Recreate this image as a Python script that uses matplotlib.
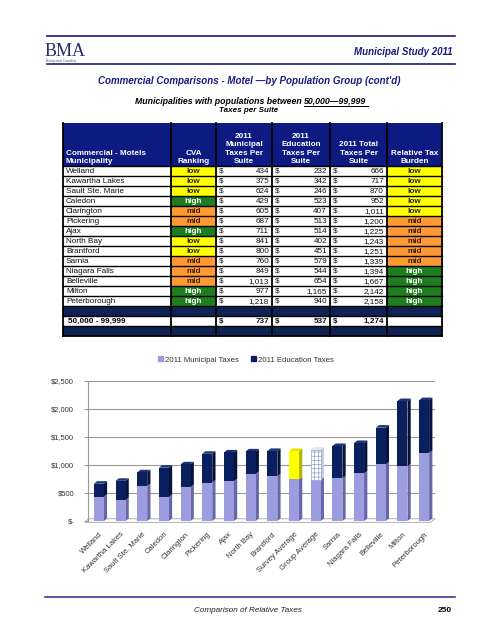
import matplotlib
matplotlib.use('Agg')
import matplotlib.pyplot as plt
from matplotlib.patches import Rectangle, Polygon, Patch

plt.rcParams['font.family'] = ['Liberation Sans', 'DejaVu Sans']
plt.rcParams['hatch.linewidth'] = 0.5

# ---- table data ----
munis = ['Welland', 'Kawartha Lakes', 'Sault Ste. Marie', 'Caledon', 'Clarington', 'Pickering',
         'Ajax', 'North Bay', 'Brantford', 'Sarnia', 'Niagara Falls', 'Belleville', 'Milton',
         'Peterborough']
cva_rank = ['low', 'low', 'low', 'high', 'mid', 'mid', 'high', 'low', 'low', 'mid', 'mid', 'mid',
            'high', 'high']
muni_tax = [434, 375, 624, 429, 605, 687, 711, 841, 800, 760, 849, 1013, 977, 1218]
edu_tax = [232, 342, 246, 523, 407, 513, 514, 402, 451, 579, 544, 654, 1165, 940]
total_tax = [666, 717, 870, 952, 1011, 1200, 1225, 1243, 1251, 1339, 1394, 1667, 2142, 2158]
burden = ['low', 'low', 'low', 'low', 'low', 'mid', 'mid', 'mid', 'mid', 'mid', 'high', 'high',
          'high', 'high']
group_label = '50,000 - 99,999'
group_vals = [737, 537, 1274]

headers = ['Commercial - Motels\nMunicipality', 'CVA\nRanking', '2011\nMunicipal\nTaxes Per\nSuite',
           '2011\nEducation\nTaxes Per\nSuite', '2011 Total\nTaxes Per\nSuite',
           'Relative Tax\nBurden']

# ---- chart data ----
chart_names = ['Welland', 'Kawartha Lakes', 'Sault Ste. Marie', 'Caledon', 'Clarington',
               'Pickering', 'Ajax', 'North Bay', 'Brantford', 'Survey Average', 'Group Average',
               'Sarnia', 'Niagara Falls', 'Belleville', 'Milton', 'Peterborough']
chart_muni = [434, 375, 624, 429, 605, 687, 711, 841, 800, 745, 737, 760, 849, 1013, 977, 1218]
chart_edu = [232, 342, 246, 523, 407, 513, 514, 402, 451, 505, 537, 579, 544, 654, 1165, 940]
yticks = [0, 500, 1000, 1500, 2000, 2500]
ytick_labels = ['$-', '$500', '$1,000', '$1,500', '$2,000', '$2,500']

NAVY = '#1a1a80'
HEAD = '#0c1a82'
DARKROW = '#0e2254'
rank_fill = {'low': '#ffff00', 'mid': '#ff9933', 'high': '#1e7d1e'}
rank_text = {'low': '#222222', 'mid': '#3a2000', 'high': 'white'}
FS = 5.9

W, H = 495, 640
fig = plt.figure(figsize=(W / 100, H / 100), dpi=100)
pg = fig.add_axes([0, 0, 1, 1])
pg.set_xlim(0, W)
pg.set_ylim(H, 0)
pg.axis('off')

# ---- page header ----
pg.plot([47, 455], [36, 36], color=NAVY, lw=1.2)
pg.plot([47, 455], [64, 64], color=NAVY, lw=1.2)
pg.text(45, 56.5, 'BMA', family='Liberation Serif', fontsize=13, color='#2b2b6b', va='baseline')
pg.text(46, 62, 'Management Consulting', fontsize=2, color='#555555', va='baseline')
pg.text(453, 52, 'Municipal Study 2011', fontsize=7, weight='bold', style='italic',
        color=NAVY, ha='right', va='center')
pg.text(249, 81, "Commercial Comparisons - Motel \u2014by Population Group (cont'd)", fontsize=7,
        weight='bold', style='italic', color=NAVY, ha='center', va='center')
pg.text(304, 101, 'Municipalities with populations between ', fontsize=6.3, weight='bold',
        style='italic', ha='right', va='center')
pg.text(304, 101, '50,000\u201499,999', fontsize=6.3, weight='bold', style='italic', ha='left',
        va='center')
pg.plot([304, 368], [106, 106], color='black', lw=0.7)
pg.text(249, 111, 'Taxes per Suite', fontsize=5.8, weight='bold', style='italic', ha='center',
        va='center')

# ---- table ----
cols = [63, 171, 216, 272, 330, 387, 442]
top, head_bot, rh = 123, 166, 10
pg.add_patch(Rectangle((cols[0], top), cols[-1] - cols[0], head_bot - top, color=HEAD, lw=0))
for i, htxt in enumerate(headers):
    if i == 0:
        pg.text(cols[0] + 3, head_bot - 1, htxt, color='white', fontsize=FS, weight='bold',
                ha='left', va='bottom', linespacing=1.25)
    else:
        pg.text((cols[i] + cols[i + 1]) / 2, head_bot - 1, htxt, color='white', fontsize=FS,
                weight='bold', ha='center', va='bottom', linespacing=1.25, multialignment='center')


def money(y, vals, bold=False):
    w = 'bold' if bold else 'normal'
    for j, v in enumerate(vals):
        x0, x1 = cols[2 + j], cols[3 + j]
        pg.text(x0 + 3, y, '$', fontsize=FS, weight=w, ha='left', va='center', color='#111111')
        pg.text(x1 - 3, y, f'{v:,}', fontsize=FS, weight=w, ha='right', va='center',
                color='#111111')


for r, name in enumerate(munis):
    y0 = head_bot + r * rh
    yc = y0 + rh / 2 + 0.3
    for c0, c1, key in [(cols[1], cols[2], cva_rank[r]), (cols[5], cols[6], burden[r])]:
        pg.add_patch(Rectangle((c0, y0), c1 - c0, rh, color=rank_fill[key], lw=0))
        pg.text((c0 + c1) / 2, yc, key, fontsize=FS, weight='bold', color=rank_text[key],
                ha='center', va='center')
    pg.text(cols[0] + 3, yc, name, fontsize=FS, ha='left', va='center', color='#111111')
    money(yc, [muni_tax[r], edu_tax[r], total_tax[r]])

n = len(munis)
y_dark1 = head_bot + n * rh
y_tot = y_dark1 + rh
y_dark2 = y_tot + rh
pg.add_patch(Rectangle((cols[0], y_dark1), cols[-1] - cols[0], rh, color=DARKROW, lw=0))
pg.add_patch(Rectangle((cols[0], y_dark2), cols[-1] - cols[0], rh, color=DARKROW, lw=0))
pg.text(cols[0] + 5, y_tot + rh / 2 + 0.3, group_label, fontsize=FS, weight='bold', ha='left',
        va='center')
money(y_tot + rh / 2 + 0.3, group_vals, bold=True)

# grid lines of the table
bottom = y_dark2 + rh
for k in range(n + 3):
    yy = head_bot + k * rh
    pg.plot([cols[0], cols[-1]], [yy, yy], color='black', lw=1.0)
for c in cols:
    pg.plot([c, c], [top, bottom], color='black', lw=1.3)
pg.plot([cols[0], cols[-1]], [bottom, bottom], color='black', lw=1.3)

# ---- chart ----
ax = fig.add_axes([88 / W, 1 - 521 / H, (435 - 88) / W, 140 / H])
ax.set_xlim(-0.5, len(chart_names) - 0.5)
ax.set_ylim(0, 2500)
ax.set_zorder(2)
ax.patch.set_alpha(0)

for t in yticks[1:]:
    ax.axhline(t, color='#9a9a9a', lw=0.8, zorder=0)
for s in ['top', 'right', 'bottom']:
    ax.spines[s].set_visible(False)
ax.spines['left'].set_color('#9a9a9a')
ax.spines['left'].set_linewidth(0.8)
# floor
ax.add_patch(Polygon([(-0.62, -25), (-0.5, 40), (15.5, 40), (15.3, -25)], closed=True,
                     facecolor='none', edgecolor='#b0b0b0', lw=0.7, clip_on=False, zorder=1))

bw = 0.46
dx, dy = 0.15, 45
for i, name in enumerate(chart_names):
    m, e = chart_muni[i], chart_edu[i]
    top_col, top_side, top_cap = '#0a1f5e', '#06123a', '#1b3278'
    hatch = None
    if name == 'Survey Average':
        top_col, top_side, top_cap = '#ffff00', '#b5b500', '#e6e600'
    elif name == 'Group Average':
        top_col, top_side, top_cap = 'white', '#c4cbdc', '#dfe5f0'
        hatch = '++++'
    xl, xr = i - bw / 2, i + bw / 2
    # side faces
    ax.add_patch(Polygon([(xr, 0), (xr + dx, dy), (xr + dx, m + dy), (xr, m)],
                         color='#6767a8', lw=0, zorder=2))
    ax.add_patch(Polygon([(xr, m), (xr + dx, m + dy), (xr + dx, m + e + dy), (xr, m + e)],
                         color=top_side, lw=0, zorder=2))
    ax.add_patch(Polygon([(xl, m + e), (xl + dx, m + e + dy), (xr + dx, m + e + dy), (xr, m + e)],
                         color=top_cap, lw=0, zorder=2))
    ax.bar(i, m, width=bw, color='#9c9ce0', lw=0, zorder=3)
    if hatch:
        ax.bar(i, e, bottom=m, width=bw, facecolor=top_col, edgecolor='#8ea3c8', hatch=hatch,
               lw=0.5, zorder=3)
    else:
        ax.bar(i, e, bottom=m, width=bw, color=top_col, lw=0, zorder=3)

ax.set_yticks(yticks)
ax.set_yticklabels(ytick_labels)
ax.tick_params(axis='y', length=3, color='#9a9a9a', pad=7, labelsize=5.4, labelcolor='#333333')
ax.set_xticks(range(len(chart_names)))
ax.set_xticklabels(chart_names, rotation=45, ha='right', rotation_mode='anchor')
ax.tick_params(axis='x', length=0, pad=7, labelsize=5.5, labelcolor='#333333')

fig.legend(handles=[Patch(color='#9c9ce0', label='2011 Municipal Taxes'),
                    Patch(color='#0a1f5e', label='2011 Education Taxes')],
           loc='center', bbox_to_anchor=(246 / W, 1 - 360 / H), ncol=2, frameon=False,
           fontsize=5.6, handlelength=0.55, handleheight=0.55, handletextpad=0.3,
           columnspacing=1.6, labelcolor='#333333')

# ---- footer ----
pg.plot([45, 455], [597, 597], color='#3a3a90', lw=1.2)
pg.text(248, 610, 'Comparison of Relative Taxes', fontsize=5.9, style='italic', color='#222222',
        ha='center', va='center')
pg.text(452, 610, '250', fontsize=6, weight='bold', ha='right', va='center')

fig.savefig('out.png', dpi=100)
